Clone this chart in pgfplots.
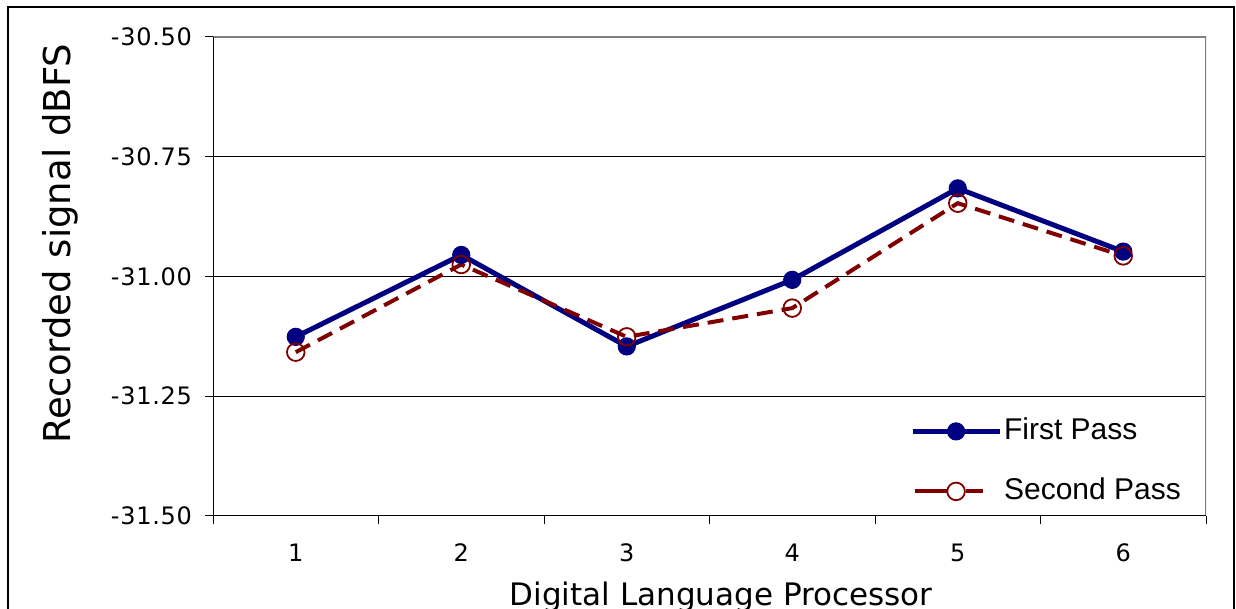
\documentclass[border=0pt]{standalone}
\usepackage{fontspec}
\setmainfont{DejaVu Sans}
\newfontfamily\tickfont[LetterSpace=3]{DejaVu Sans}
\newfontfamily\legfont{Liberation Sans}
\usepackage{pgfplots}
\pgfplotsset{compat=1.18}
\definecolor{navyc}{HTML}{000080}
\definecolor{maroonc}{HTML}{800000}
\pgfplotsset{secondleg/.code={\pgfplotsset{legend image code/.code={\draw[##1,solid] (1pt,0pt) -- (17pt,0pt); \draw[##1,solid] (26.5pt,0pt) -- (35pt,0pt); \draw[##1,solid] plot coordinates {(21.75pt,0pt)};}}}}
\begin{document}
\begin{tikzpicture}
\useasboundingbox (0,0) rectangle (618pt,304.5pt);
\draw[line width=1pt] (4pt,-5pt) -- (4pt,301pt) -- (617pt,301pt) -- (617pt,-5pt);
\begin{axis}[
  at={(106.5pt,46.5pt)}, anchor=south west,
  scale only axis, width=496.5pt, height=239.5pt,
  xmin=0.5, xmax=6.5, ymin=-31.5, ymax=-30.5,
  axis line style={draw=none},
  xtick={1,2,3,4,5,6}, xticklabels={1,2,3,4,5,6},
  minor xtick={0.5,1.5,2.5,3.5,4.5,5.5,6.5},
  ytick={-31.5,-31.25,-31,-30.75,-30.5},
  yticklabels={-31.50,-31.25,-31.00,-30.75,-30.50},
  tick pos=left,
  tick align=outside, major tick length=4pt, minor tick length=4pt,
  tick style={black, line width=0.5pt},
  major x tick style={draw=none},
  ymajorgrids, major grid style={black, line width=0.5pt},
  ticklabel style={font=\tickfont\fontsize{12pt}{14pt}\selectfont},
  xticklabel style={yshift=-6.5pt},
  yticklabel style={xshift=-3pt},
  xlabel={Digital Language Processor},
  xlabel style={font=\fontsize{15.5pt}{18pt}\selectfont, at={(axis description cs:0.5116,-0.187)}, anchor=base},
  ylabel={Recorded signal dBFS},
  ylabel style={font=\fontsize{18.5pt}{21pt}\selectfont, at={(axis description cs:-0.154,0.568)}, anchor=center, rotate=0},
  legend cell align=left,
  legend style={draw=none, fill=none, at={(rel axis cs:0.702,0.21)}, anchor=north west,
    inner sep=0pt, outer sep=0pt, row sep=14pt,
    font=\legfont\fontsize{15pt}{18pt}\selectfont,
    nodes={inner sep=1pt, text height=11pt, text depth=3pt},
    /tikz/every even column/.append style={column sep=1pt}},
  legend image code/.code={\draw[mark repeat=2,mark phase=2,#1] plot coordinates {(0pt,0pt) (21.75pt,0pt) (43.5pt,0pt)};},
]
\addplot[navyc, line width=2.5pt, mark=*, mark size=4.3pt, mark options={solid, line width=0.5pt}]
  coordinates {(1,-31.126) (2,-30.955) (3,-31.146) (4,-31.007) (5,-30.816) (6,-30.948)};
\addlegendentry{First Pass}
\addplot[maroonc, line width=2pt, dash pattern=on 8pt off 4.5pt, mark=o, mark size=4.4pt, mark options={solid, line width=0.9pt}, secondleg]
  coordinates {(1,-31.158) (2,-30.975) (3,-31.126) (4,-31.066) (5,-30.847) (6,-30.957)};
\addlegendentry{Second Pass}
\draw[gray, line width=1pt] (rel axis cs:0,1) -- (rel axis cs:1,1) -- (rel axis cs:1,0);
\draw[black, line width=0.6pt] (rel axis cs:0,1) -- (rel axis cs:0,0) -- (rel axis cs:1,0);
\end{axis}
\end{tikzpicture}
\end{document}
